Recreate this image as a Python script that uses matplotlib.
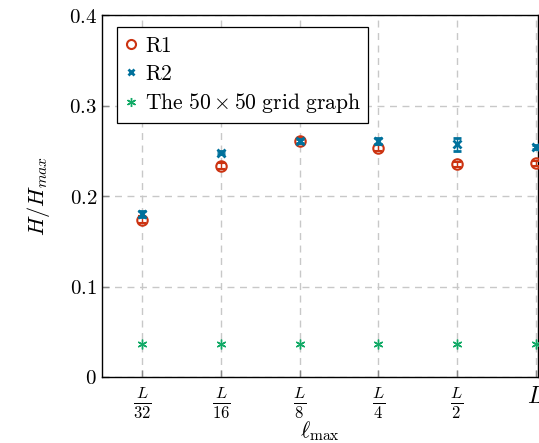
import numpy as np
import matplotlib
matplotlib.use("Agg")
import matplotlib.pyplot as plt
from matplotlib.lines import Line2D

plt.rcParams["mathtext.fontset"] = "cm"
plt.rcParams["font.family"] = "serif"
plt.rcParams["font.serif"] = ["DejaVu Serif"]

# data
tick_labels = [r"$\frac{L}{32}$", r"$\frac{L}{16}$", r"$\frac{L}{8}$",
               r"$\frac{L}{4}$", r"$\frac{L}{2}$", r"$L$"]
r1_vals = [0.174, 0.233, 0.261, 0.253, 0.235, 0.236]
r1_err = [0.004, 0.003, 0.003, 0.003, 0.003, 0.003]
r2_vals = [0.180, 0.248, 0.261, 0.261, 0.257, 0.254]
r2_err = [0.003, 0.002, 0.002, 0.003, 0.007, 0.002]
grid_vals = [0.036, 0.036, 0.036, 0.036, 0.036, 0.036]

x = np.arange(len(tick_labels))

fig = plt.figure(figsize=(5.39, 4.43), dpi=100)
ax = fig.add_axes([0.1892, 0.149, 0.809, 0.817])

c_r1 = "#cc3311"
c_r2 = "#00719c"
c_gr = "#11aa66"

ax.errorbar(x, r1_vals, yerr=r1_err, fmt="o", ms=7.5, mfc="none", mec=c_r1,
            mew=1.5, ecolor=c_r1, elinewidth=1.0, capsize=3, zorder=3)
ax.errorbar(x, r2_vals, yerr=r2_err, fmt="x", ms=6, mec=c_r2, mew=2.0,
            ecolor=c_r2, elinewidth=1.0, capsize=3, zorder=4)
ax.plot(x, grid_vals, ls="none", marker=(6, 2, 0), ms=7, mec=c_gr, mew=1.0,
        color=c_gr, zorder=3)

ax.set_xlim(-0.51, 5.03)
ax.set_ylim(0, 0.4)
ax.set_xticks(x)
ax.set_xticklabels(tick_labels, fontsize=17)
ax.set_yticks([0, 0.1, 0.2, 0.3, 0.4])
ax.set_yticklabels([r"$0$", r"$0.1$", r"$0.2$", r"$0.3$", r"$0.4$"], fontsize=15)

ax.grid(True, color="#c8c8c8", linestyle=(0, (5, 4)), linewidth=1.0)
ax.set_axisbelow(True)
ax.tick_params(direction="in", length=5, color="#888888", width=1.0)
ax.tick_params(axis="x", pad=6)
for s in ax.spines.values():
    s.set_linewidth(1.0)
    s.set_color("black")

ax.set_xlabel(r"$\ell_{\max}$", fontsize=16, labelpad=-1)
ax.set_ylabel(r"$H/H_{max}$", fontsize=16, labelpad=12)

handles = [
    Line2D([], [], ls="none", marker="o", ms=6.5, mfc="none", mec=c_r1, mew=1.5),
    Line2D([], [], ls="none", marker="x", ms=5, mec=c_r2, mew=2.0),
    Line2D([], [], ls="none", marker=(6, 2, 0), ms=6.5, mec=c_gr, mew=1.0),
]
labels = [r"$\mathrm{R1}$", r"$\mathrm{R2}$",
          r"$\mathrm{The\ 50\times 50\ grid\ graph}$"]
leg = ax.legend(handles, labels, loc="upper left", bbox_to_anchor=(0.034, 0.967),
                fontsize=15.5, frameon=True, fancybox=False, edgecolor="black",
                framealpha=1, handlelength=0.6, handletextpad=0.35, borderpad=0.35,
                labelspacing=0.3, borderaxespad=0)
leg.get_frame().set_linewidth(0.9)

fig.savefig("out.png", dpi=100)
